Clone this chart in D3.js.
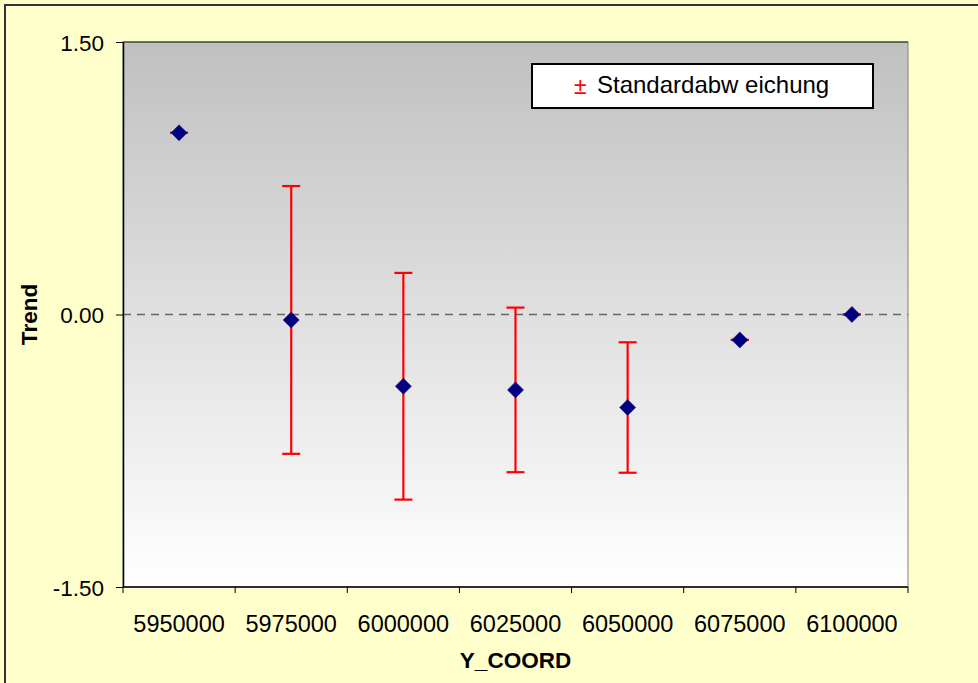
<!DOCTYPE html>
<html>
<head>
<meta charset="utf-8">
<script src="https://cdn.jsdelivr.net/npm/d3@7"></script>
<style>
  html, body { margin: 0; padding: 0; background: #fff; }
  svg { display: block; font-family: "Liberation Sans", Arial, sans-serif; }
</style>
</head>
<body>
<svg id="chart" width="978" height="683"></svg>
<script>
// ---- data ----
const categories = ["5950000", "5975000", "6000000", "6025000", "6050000", "6075000", "6100000"];
const trendValues = [1.00, -0.03, -0.395, -0.415, -0.512, -0.14, 0.00];
const stdDevValues = [0.00, 0.737, 0.624, 0.453, 0.359, 0.00, 0.00];
const yTickValues = [-1.5, 0, 1.5];
const yTickLabels = ["-1.50", "0.00", "1.50"];
const xAxisTitle = "Y_COORD";
const yAxisTitle = "Trend";
const legendLabel = "Standardabw eichung";

// ---- layout ----
const W = 978, H = 683;
const plot = { left: 123, top: 42, right: 908, bottom: 587 };
const svg = d3.select("#chart");

// background + outer border
svg.append("rect").attr("x", 0).attr("y", 0).attr("width", W).attr("height", H).attr("fill", "#FFFFCC");
svg.append("rect").attr("x", 5).attr("y", 5).attr("width", W + 10).attr("height", H + 10)
  .attr("fill", "none").attr("stroke", "#333").attr("stroke-width", 2);

const x = d3.scaleBand().domain(categories).range([plot.left, plot.right]).padding(0);
const y = d3.scaleLinear().domain([-1.5, 1.5]).range([plot.bottom, plot.top]);

// gradient plot area
const defs = svg.append("defs");
const grad = defs.append("linearGradient").attr("id", "pg").attr("x1", 0).attr("y1", 0).attr("x2", 0).attr("y2", 1);
grad.append("stop").attr("offset", "0%").attr("stop-color", "#c0c0c0");
grad.append("stop").attr("offset", "100%").attr("stop-color", "#ffffff");
svg.append("rect").attr("x", plot.left).attr("y", plot.top)
  .attr("width", plot.right - plot.left).attr("height", plot.bottom - plot.top)
  .attr("fill", "url(#pg)").attr("stroke", "#808080").attr("stroke-width", 1);
svg.append("line").attr("x1", plot.left).attr("x2", plot.right).attr("y1", plot.top).attr("y2", plot.top)
  .attr("stroke", "#222").attr("stroke-width", 1.2);

// zero dashed line
svg.append("line").attr("x1", plot.left).attr("x2", plot.right)
  .attr("y1", y(0)).attr("y2", y(0))
  .attr("stroke", "#666").attr("stroke-width", 1.5).attr("stroke-dasharray", "8,6");

// y axis
const yAxis = d3.axisLeft(y).tickValues(yTickValues)
  .tickFormat((d, i) => yTickLabels[i]).tickSize(7).tickSizeOuter(0);
const yg = svg.append("g").attr("transform", `translate(${plot.left},0)`).call(yAxis);
yg.select(".domain").attr("stroke", "#000").attr("stroke-width", 1.5);
yg.selectAll(".tick line").attr("stroke", "#000");
yg.selectAll(".tick text").attr("font-size", 22.5).attr("fill", "#000")
  .attr("font-family", "Liberation Sans, Arial, sans-serif").attr("x", -19).attr("dy", "0.36em");

// x axis (category axis, ticks between categories)
const xg = svg.append("g").attr("transform", `translate(0,${plot.bottom})`);
xg.append("line").attr("x1", plot.left).attr("x2", plot.right).attr("stroke", "#000").attr("stroke-width", 1.5);
const boundaries = categories.map(c => x(c)).concat([x(categories[categories.length - 1]) + x.bandwidth()]);
xg.selectAll("line.tk").data(boundaries).join("line").attr("class", "tk")
  .attr("x1", d => d).attr("x2", d => d).attr("y1", 0).attr("y2", 6).attr("stroke", "#000");
xg.selectAll("text.tl").data(categories).join("text").attr("class", "tl")
  .attr("x", d => x(d) + x.bandwidth() / 2).attr("y", 45)
  .attr("text-anchor", "middle").attr("font-size", 23.5).attr("fill", "#000")
  .text(d => d);

// axis titles
svg.append("text").attr("x", (plot.left + plot.right) / 2).attr("y", 668)
  .attr("text-anchor", "middle").attr("font-size", 22.5).attr("font-weight", "bold").text(xAxisTitle);
svg.append("text").attr("transform", `translate(37,${(plot.top + plot.bottom) / 2}) rotate(-90)`)
  .attr("text-anchor", "middle").attr("font-size", 22.5).attr("font-weight", "bold").text(yAxisTitle);

// error bars
const data = categories.map((c, i) => ({ c, v: trendValues[i], s: stdDevValues[i] }));
const capHalf = 9;
const eb = svg.append("g").attr("stroke", "#ff0000").attr("stroke-width", 2.2);
data.forEach(d => {
  const cx = x(d.c) + x.bandwidth() / 2;
  eb.append("line").attr("x1", cx).attr("x2", cx).attr("y1", y(d.v + d.s)).attr("y2", y(d.v - d.s));
  eb.append("line").attr("x1", cx - capHalf).attr("x2", cx + capHalf).attr("y1", y(d.v + d.s)).attr("y2", y(d.v + d.s));
  eb.append("line").attr("x1", cx - capHalf).attr("x2", cx + capHalf).attr("y1", y(d.v - d.s)).attr("y2", y(d.v - d.s));
});

// markers
svg.append("g").selectAll("path").data(data).join("path")
  .attr("transform", d => `translate(${x(d.c) + x.bandwidth() / 2},${y(d.v)}) rotate(45)`)
  .attr("d", d3.symbol().type(d3.symbolSquare).size(128)())
  .attr("fill", "#000080").attr("stroke", "#000080").attr("stroke-width", 0.5);

// legend
const lg = svg.append("g");
lg.append("rect").attr("x", 532).attr("y", 64).attr("width", 341).attr("height", 44)
  .attr("fill", "#fff").attr("stroke", "#000").attr("stroke-width", 2);
lg.append("text").attr("x", 574).attr("y", 94).attr("font-size", 23).attr("fill", "#ff0000").text("±");
lg.append("text").attr("x", 597).attr("y", 93).attr("font-size", 24).attr("fill", "#000").text(legendLabel);
</script>
</body>
</html>
